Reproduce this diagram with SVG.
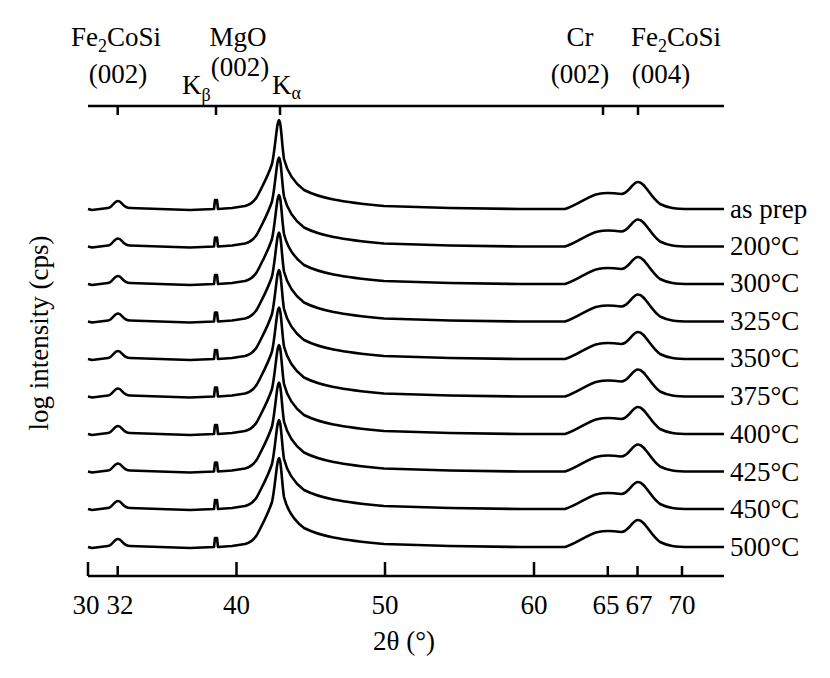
<svg xmlns="http://www.w3.org/2000/svg" width="830" height="678" viewBox="0 0 830 678">
<style>
text{font-family:"Liberation Serif",serif;font-size:27px;fill:#000}
.ax{stroke:#000;stroke-width:2.5;fill:none}
.c{stroke:#000;stroke-width:2.6;fill:none;stroke-linejoin:round}
.m{text-anchor:middle}
</style>
<defs>
<path id="xrd" class="c" d="M88,0 L92,1 L100,0 L108,-1 C112,-1 114,-8 118,-8 C122,-8 123,-1 130,-1 L160,0 L190,1 L214,0 L215,-9 L217,-9 L218,0 L232,-1 L245,-3 C252,-5 256,-9 259,-16 C263,-24 268,-33 272,-45 C275,-58 277,-89 279,-89 C281,-89 282,-62 284,-50 C287,-38 292,-28 304,-19 C320,-11 340,-7 384,-3 L450,-1 L520,0 L565,0 C578,-4 588,-13 598,-15 C606,-17 614,-16 621,-15 C629,-15 632,-27 638,-27 C645,-27 650,-12 660,-5 C668,-1 675,0 690,0 L724,0"/>
</defs>
<g id="axes">
<line class="ax" x1="88" y1="106" x2="724" y2="106"/>
<line class="ax" x1="117.7" y1="106" x2="117.7" y2="115"/>
<line class="ax" x1="216" y1="106" x2="216" y2="115"/>
<line class="ax" x1="280" y1="106" x2="280" y2="115"/>
<line class="ax" x1="603" y1="106" x2="603" y2="115"/>
<line class="ax" x1="638" y1="106" x2="638" y2="115"/>
<line class="ax" x1="88" y1="576" x2="724" y2="576"/>
<line class="ax" x1="88" y1="576" x2="88" y2="562"/>
<line class="ax" x1="117.7" y1="576" x2="117.7" y2="566"/>
<line class="ax" x1="236.5" y1="576" x2="236.5" y2="562"/>
<line class="ax" x1="385" y1="576" x2="385" y2="562"/>
<line class="ax" x1="534" y1="576" x2="534" y2="562"/>
<line class="ax" x1="607.8" y1="576" x2="607.8" y2="566"/>
<line class="ax" x1="637.5" y1="576" x2="637.5" y2="566"/>
<line class="ax" x1="682" y1="576" x2="682" y2="566"/>
<text class="m" x="86" y="614">30</text>
<text class="m" x="120" y="614">32</text>
<text class="m" x="236.5" y="614">40</text>
<text class="m" x="385" y="614">50</text>
<text class="m" x="534" y="614">60</text>
<text class="m" x="606" y="614">65</text>
<text class="m" x="639" y="614">67</text>
<text class="m" x="682" y="614">70</text>
<text class="m" x="404" y="650">2θ (°)</text>
<text class="m" transform="translate(48,333) rotate(-90)">log intensity (cps)</text>
</g>
<g id="labels">
<text class="m" x="116" y="46">Fe<tspan font-size="18" dy="6">2</tspan><tspan dy="-6">CoSi</tspan></text>
<text class="m" x="118" y="83">(002)</text>
<text class="m" x="238" y="46">MgO</text>
<text class="m" x="240" y="76">(002)</text>
<text x="182" y="94">K<tspan font-size="18" dy="7">β</tspan></text>
<text x="272" y="94">K<tspan font-size="18" dy="5">α</tspan></text>
<text class="m" x="580" y="46">Cr</text>
<text class="m" x="580" y="83">(002)</text>
<text class="m" x="676" y="46">Fe<tspan font-size="18" dy="6">2</tspan><tspan dy="-6">CoSi</tspan></text>
<text class="m" x="661" y="83">(004)</text>
</g>
<g id="curves">
<use href="#xrd" transform="translate(0,209)"/>
<use href="#xrd" transform="translate(0,246.5)"/>
<use href="#xrd" transform="translate(0,284)"/>
<use href="#xrd" transform="translate(0,321.5)"/>
<use href="#xrd" transform="translate(0,359)"/>
<use href="#xrd" transform="translate(0,396.5)"/>
<use href="#xrd" transform="translate(0,434)"/>
<use href="#xrd" transform="translate(0,471.5)"/>
<use href="#xrd" transform="translate(0,509)"/>
<use href="#xrd" transform="translate(0,547)"/>
</g>
<g id="temps">
<text x="730" y="218">as prep</text>
<text x="730" y="255">200°C</text>
<text x="730" y="292">300°C</text>
<text x="730" y="330">325°C</text>
<text x="730" y="367">350°C</text>
<text x="730" y="405">375°C</text>
<text x="730" y="443">400°C</text>
<text x="730" y="481">425°C</text>
<text x="730" y="518">450°C</text>
<text x="730" y="556">500°C</text>
</g>
</svg>
